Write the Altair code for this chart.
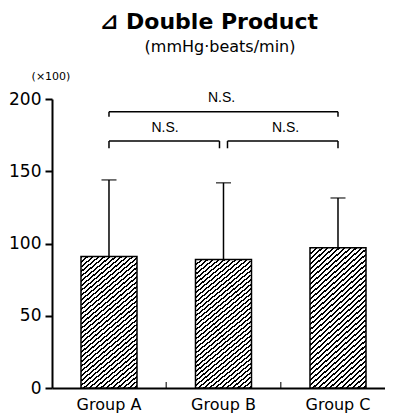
import altair as alt
import pandas as pd

groups = ["Group A", "Group B", "Group C"]
means = [91, 89, 97]
uppers = [144, 142, 131.5]
yticks = [0, 25, 50, 75, 100, 125, 150, 175, 200]

title_text = "⊿ Double Product"
subtitle_text = "(mmHg·beats/min)"
unit_text = "(×100)"
ns_text = "N.S."

# significance brackets (values on y scale)
top_bracket_y = 191.2
top_leg_y = 187.7
low_bracket_y = 170.9
low_leg_y = 165.9
top_ns_y = 201
low_ns_y = 180

df = pd.DataFrame({"group": groups, "mean": means, "upper": uppers})

W, H = 333, 289

# hatch gradient "////"
a = 0.85          # tan of hatch angle
bw, bh = 56.0, 133.0
s = (a * bw + bh) / ((a * bw) ** 2 + bh ** 2)
span = a * bw + bh
period = 4.8
n = int(span / period) + 1
blk = 1.9 / span
stops = []
for k in range(n):
    st = k * period / span
    if st + blk > 1:
        break
    stops += [
        {"offset": st, "color": "white"},
        {"offset": st, "color": "black"},
        {"offset": st + blk, "color": "black"},
        {"offset": st + blk, "color": "white"},
    ]
stops.append({"offset": 1, "color": "white"})
hatch = {"gradient": "linear", "x1": 0, "y1": 0, "x2": a * bw * s, "y2": bh * s, "stops": stops}

xscale = alt.Scale(domain=groups, paddingInner=0.511, paddingOuter=0.2096, align=0.604)
yscale = alt.Scale(domain=[0, 200], nice=False, zero=True)

xenc = alt.X("group:N", scale=xscale, sort=groups,
             axis=alt.Axis(title=None, labelAngle=0, ticks=False, domainWidth=2, domainColor="black",
                           labelFont="DejaVu Sans", labelFontSize=16, labelColor="black", labelPadding=8))
yenc = alt.Y("mean:Q", scale=yscale,
             axis=alt.Axis(title=None, values=yticks, labelExpr="datum.value % 50 == 0 ? datum.label : ''",
                           tickSize=7, tickWidth=2, tickColor="black", domainWidth=2, domainColor="black",
                           labelFont="DejaVu Sans", labelFontSize=17, labelColor="black", labelPadding=4, grid=False))

base = alt.Chart(df)
bars = base.mark_bar(fill=hatch, stroke="black", strokeWidth=1.5).encode(x=xenc, y=yenc)
err = base.mark_rule(color="black", strokeWidth=1.5).encode(x=alt.X("group:N"), y=alt.Y("mean:Q"), y2="upper:Q")
cap = base.mark_tick(color="black", size=15, thickness=1.5).encode(x=alt.X("group:N"), y=alt.Y("upper:Q"))

bnd = alt.Chart(pd.DataFrame({"group": groups[1:], "z": [0, 0]})).mark_tick(
    orient="vertical", color="black", size=6, thickness=1.5, yOffset=-3, xOffset=-57.25
).encode(x=alt.X("group:N"), y=alt.Y("z:Q"))

def hline(g1, g2, yv, o1=0, o2=0):
    d = pd.DataFrame({"g1": [g1], "g2": [g2], "y": [yv]})
    return alt.Chart(d).mark_rule(color="black", strokeWidth=1.5, xOffset=o1, x2Offset=o2).encode(
        x=alt.X("g1:N"), x2="g2:N", y=alt.Y("y:Q"))

def leg(g, y1, y2, o=0):
    d = pd.DataFrame({"g": [g], "y1": [y1], "y2": [y2]})
    return alt.Chart(d).mark_rule(color="black", strokeWidth=1.5, xOffset=o).encode(
        x=alt.X("g:N"), y=alt.Y("y1:Q"), y2="y2:Q")

brackets = [
    hline(groups[0], groups[2], top_bracket_y),
    leg(groups[0], top_bracket_y, top_leg_y),
    leg(groups[2], top_bracket_y, top_leg_y),
    hline(groups[0], groups[1], low_bracket_y, 0, -4),
    leg(groups[0], low_bracket_y, low_leg_y),
    leg(groups[1], low_bracket_y, low_leg_y, -4),
    hline(groups[1], groups[2], low_bracket_y, 4, 0),
    leg(groups[1], low_bracket_y, low_leg_y, 4),
    leg(groups[2], low_bracket_y, low_leg_y),
]

def ns(g, yv, dx):
    d = pd.DataFrame({"g": [g], "y": [yv], "t": [ns_text]})
    return alt.Chart(d).mark_text(font="Liberation Sans", fontSize=14, color="black", dx=dx, baseline="middle").encode(
        x=alt.X("g:N"), y=alt.Y("y:Q"), text="t:N")

labels = [ns(groups[1], top_ns_y, -2), ns(groups[0], low_ns_y, 56), ns(groups[1], low_ns_y, 62)]

def header(txt, xv, yv, size, weight, font):
    d = pd.DataFrame({"t": [txt]})
    return alt.Chart(d).mark_text(font=font, fontSize=size, fontWeight=weight, color="black",
                                  baseline="alphabetic", align="center").encode(
        text="t:N", x=alt.value(xv), y=alt.value(yv))

headers = [
    header(title_text, 157, -70.5, 22, "bold", "DejaVu Sans"),
    header(subtitle_text, 168, -47.3, 16, "normal", "DejaVu Sans"),
    header(unit_text, -1, -19.5, 11, "normal", "DejaVu Sans"),
]

chart = alt.layer(bars, err, cap, bnd, *brackets, *labels, *headers).properties(
    width=W, height=H,
    autosize=alt.AutoSizeParams(type="none"),
    padding={"left": 44, "top": 91, "right": 0, "bottom": 32},
).configure_view(stroke=None)

chart.save("out.html", embed_options={"renderer": "svg", "actions": False})
